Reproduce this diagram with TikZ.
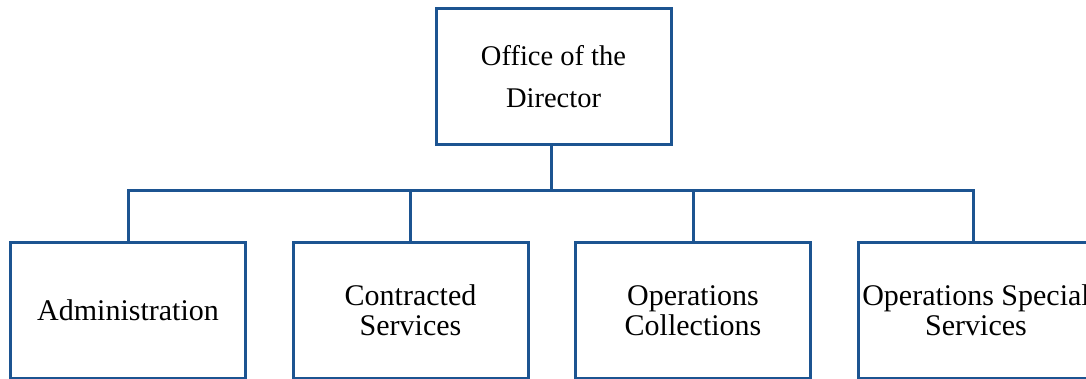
\documentclass[tikz,border=0pt]{standalone}
\usepackage{fontspec}
\setmainfont{Liberation Serif}
\definecolor{boxblue}{RGB}{28,84,145}
\tikzset{
  orgbox/.style={draw=boxblue, line width=3pt, minimum width=235pt, minimum height=136pt,
    align=center, inner sep=0pt, outer sep=0pt, font=\fontsize{30}{30}\selectfont, text=black},
  topbox/.style={orgbox, font=\fontsize{28.5}{42}\selectfont},
  conn/.style={draw=boxblue, line width=3pt, line join=miter}
}
\begin{document}
\begin{tikzpicture}[x=1pt,y=-1pt]
\useasboundingbox (0,0) rectangle (1086,379);
\node[topbox] (top) at (553.5,76.5) {Office of the\\Director};
\node[orgbox] (a) at (128,310.5) {Administration};
\node[orgbox] (b) at (410.5,310.5) {Contracted\\Services};
\node[orgbox] (c) at (693,310.5) {Operations\\Collections};
\node[orgbox] (d) at (976,310.5) {Operations Special\\Services};
\coordinate (bus) at (0,191);
\draw[conn] ([xshift=-2.5pt]top.south) -- ([xshift=-2.5pt]top.south |- bus);
\draw[conn] (a.north) -- (a.north |- bus) -- ([xshift=-3pt]d.north |- bus) -- ([xshift=-3pt]d.north);
\draw[conn] (b.north) -- (b.north |- bus);
\draw[conn] (c.north) -- (c.north |- bus);
\end{tikzpicture}
\end{document}
